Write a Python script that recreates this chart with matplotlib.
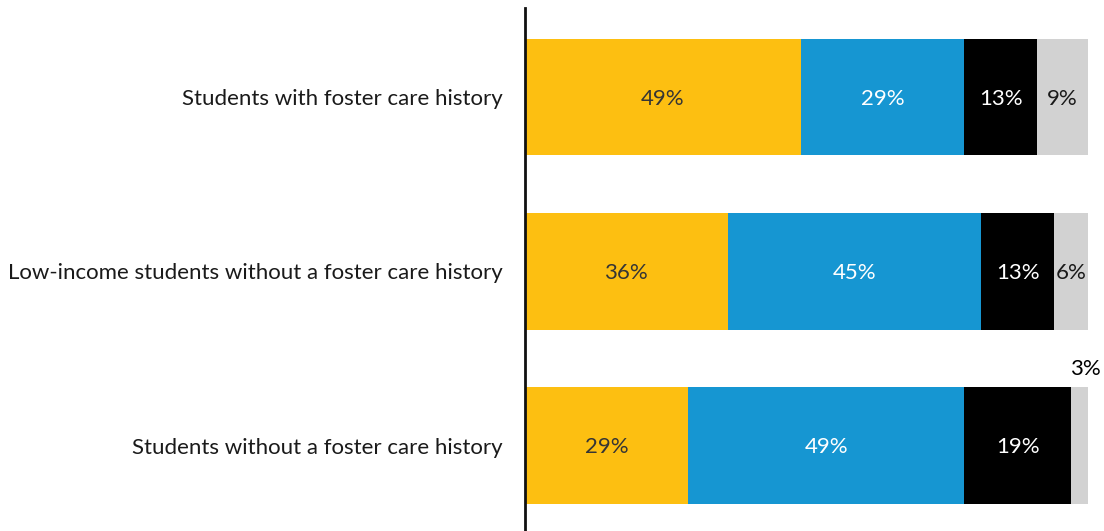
import matplotlib.pyplot as plt
import numpy as np

plt.rcParams['font.family'] = ['Lato', 'DejaVu Sans']

groups = ["Students with foster care history",
          "Low-income students without a foster care history",
          "Students without a foster care history"]
seg1 = [49, 36, 29]
seg2 = [29, 45, 49]
seg3 = [13, 13, 19]
seg4 = [9, 6, 3]

colors = ["#fdbf11", "#1696d2", "#000000", "#d2d2d2"]
text_colors = ["#353535", "white", "white", "#1a1a1a"]

fig = plt.figure(figsize=(11.04, 5.31), dpi=100)
ax = fig.add_axes([525 / 1104, 0, (1088 - 525) / 1104, 1 - 8 / 531])

y = np.arange(len(groups))
left = np.zeros(len(groups))
for vals, c, tc in zip([seg1, seg2, seg3, seg4], colors, text_colors):
    vals = np.array(vals)
    ax.barh(y, vals, left=left, height=0.67, color=c)
    for i, v in enumerate(vals):
        if v >= 5:
            ax.text(left[i] + v / 2, y[i] + 0.01, f"{v}%", ha="center", va="center",
                    color=tc, fontsize=16)
        else:
            ax.annotate(f"{v}%", (left[i] + v, y[i] - 0.335), xytext=(-2, 13),
                        textcoords="offset points", ha="center", va="center",
                        color="black", fontsize=16, annotation_clip=False)
    left += vals

ax.set_xlim(0, 100)
ax.set_ylim(2.49, -0.51)
ax.set_yticks(y)
ax.set_yticklabels(groups, fontsize=16, color="#1a1a1a")
ax.tick_params(axis="y", length=0, pad=16)
ax.set_xticks([])
for s in ["top", "right", "bottom"]:
    ax.spines[s].set_visible(False)
ax.spines["left"].set_linewidth(2)
ax.spines["left"].set_color("#111111")

fig.savefig("out.png", dpi=100)
